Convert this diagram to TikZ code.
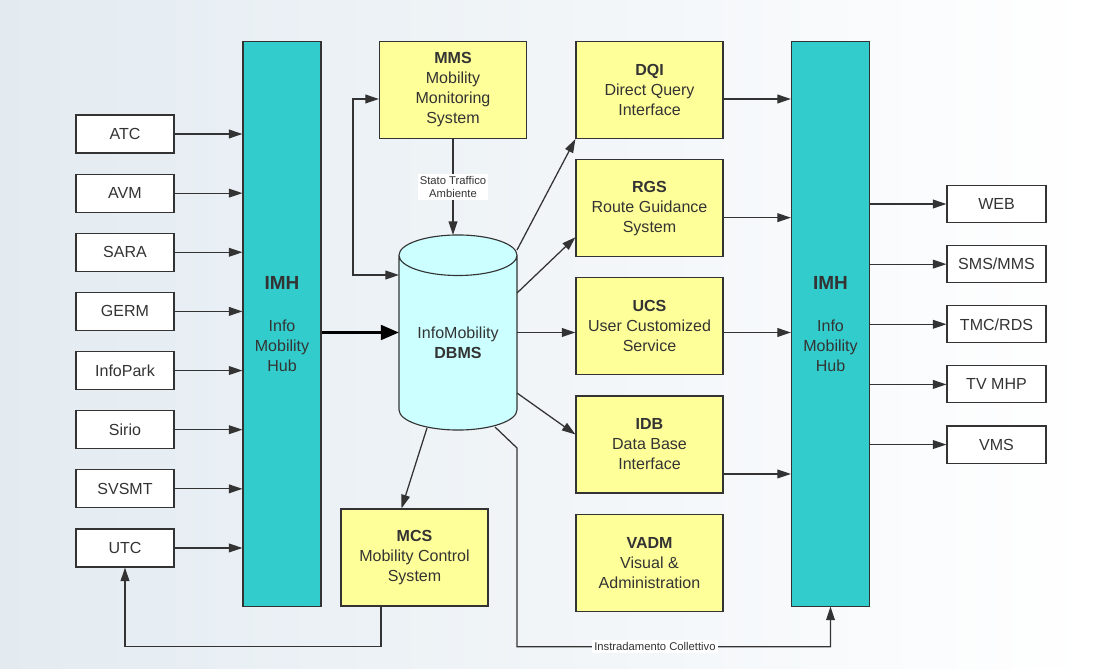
\documentclass[tikz,border=0pt]{standalone}
\usepackage{fontspec}
\setmainfont{Liberation Sans}
\usetikzlibrary{shapes.geometric, arrows.meta, positioning, calc}

\definecolor{hubcyan}{HTML}{33CCCC}
\definecolor{modyellow}{HTML}{FFFF99}
\definecolor{dbcyan}{HTML}{CCFFFF}
\definecolor{inkgray}{HTML}{333333}
\definecolor{bgblue}{HTML}{E3EBF1}

\begin{document}
\begin{tikzpicture}[x=0.025cm, y=-0.025cm,
    font=\fontsize{11.4}{14.2}\selectfont, text=inkgray,
    src/.style={rectangle, draw=inkgray, fill=white, line width=0.8pt,
                minimum width=2.45cm, minimum height=0.95cm, inner sep=0pt},
    sink/.style={src, minimum width=2.475cm, minimum height=0.925cm},
    hub/.style={rectangle, draw=inkgray, fill=hubcyan, line width=0.8pt,
                minimum width=1.95cm, minimum height=14.1cm, align=center, inner sep=0pt},
    module/.style={rectangle, draw=inkgray, fill=modyellow, line width=0.8pt,
                minimum width=3.675cm, minimum height=2.425cm, align=center, inner sep=0pt},
    tip/.tip={Triangle[length=3.4mm,width=2.2mm]},
    arrow/.style={-tip, line width=0.9pt, draw=inkgray},
    bigarrow/.style={-{Triangle[length=4.5mm,width=3.6mm]}, line width=2.4pt, draw=black},
    note/.style={fill=white, inner sep=1.5pt, align=center,
                 font=\fontsize{8}{9.5}\selectfont}
]
    % background
    \fill[left color=bgblue, right color=white] (0,0) rectangle (1093,669);

    % hubs and data base
    \node[hub] (hub1) at (282,324) {\textbf{\fontsize{13.5}{16}\selectfont IMH}\\[0.55cm] Info\\Mobility\\Hub};
    \node[hub] (hub2) at (830.5,324) {\textbf{\fontsize{13.5}{16}\selectfont IMH}\\[0.55cm] Info\\Mobility\\Hub};
    \node[cylinder, shape border rotate=90, aspect=0.5, draw=inkgray, fill=dbcyan,
          line width=0.8pt, minimum width=2.95cm, minimum height=4.875cm,
          inner sep=0pt, align=center, anchor=shape center] (dbms) at (458,332.5) {InfoMobility\\\textbf{DBMS}};
    \coordinate (dbc) at (dbms.shape center);

    % sources
    \node[src] (atc) at (125,134) {ATC};
    \node[src, below=0.5cm of atc] (avm) {AVM};
    \node[src, below=0.5cm of avm] (sara) {SARA};
    \node[src, below=0.5cm of sara] (germ) {GERM};
    \node[src, below=0.5cm of germ] (infopark) {InfoPark};
    \node[src, below=0.5cm of infopark] (sirio) {Sirio};
    \node[src, below=0.5cm of sirio] (svsmt) {SVSMT};
    \node[src, below=0.5cm of svsmt] (utc) {UTC};

    % modules
    \node[module] (mms) at (453,90) {\textbf{MMS}\\Mobility\\Monitoring\\System};
    \node[module] (mcs) at (414.5,557.5) {\textbf{MCS}\\Mobility Control\\System};
    \node[module] (dqi) at (649.5,90) {\textbf{DQI}\\Direct Query\\Interface};
    \node[module, below=0.5cm of dqi] (rgs) {\textbf{RGS}\\Route Guidance\\System};
    \node[module, below=0.5cm of rgs] (ucs) {\textbf{UCS}\\User Customized\\Service};
    \node[module, below=0.5cm of ucs] (idb) {\textbf{IDB}\\Data Base\\Interface};
    \node[module, below=0.5cm of idb] (vadm) {\textbf{VADM}\\Visual \&\\Administration};

    % outputs
    \node[sink] (web) at (996.5,204) {WEB};
    \node[sink, below=0.55cm of web] (sms) {SMS/MMS};
    \node[sink, below=0.55cm of sms] (tmc) {TMC/RDS};
    \node[sink, below=0.55cm of tmc] (tv) {TV MHP};
    \node[sink, below=0.55cm of tv] (vms) {VMS};

    % sources -> hub
    \draw[arrow] (atc.east) -- (atc.east -| hub1.west);
    \draw[arrow] (avm.east) -- (avm.east -| hub1.west);
    \draw[arrow] (sara.east) -- (sara.east -| hub1.west);
    \draw[arrow] (germ.east) -- (germ.east -| hub1.west);
    \draw[arrow] (infopark.east) -- (infopark.east -| hub1.west);
    \draw[arrow] (sirio.east) -- (sirio.east -| hub1.west);
    \draw[arrow] (svsmt.east) -- (svsmt.east -| hub1.west);
    \draw[arrow] (utc.east) -- (utc.east -| hub1.west);

    % hub -> data base
    \draw[bigarrow] (hub1.east |- dbc) -- ($(dbc)+(-59,0)$);
    \draw[tip-tip, line width=0.9pt, draw=inkgray]
        ($(mms.west)+(0,9)$) -| ($(dbc)+(-105,-57.5)$) -- ($(dbc)+(-59,-57.5)$);
    \draw[arrow] (mms.south) -- node[note] {Stato Traffico\\Ambiente} ($(dbc)+(-5,-97.5)$);

    % data base -> modules
    \draw[arrow] ($(dbc)+(59,-82.5)$) -- (dqi.south west);
    \draw[arrow] ($(dbc)+(59,-39.5)$) -- ($(rgs.south west)+(0,-20)$);
    \draw[arrow] ($(dbc)+(59,0)$) -- (dbc -| ucs.west);
    \draw[arrow] ($(dbc)+(59,60.5)$) -- ($(idb.west)+(0,-10)$);
    \draw[arrow] ($(dbc)+(-31,95.5)$) -- ($(mcs.north)+(-13,0)$);
    \draw[arrow] ($(mcs.south)+(-33.5,0)$) -- ++(0,40) -| (utc.south);
    \draw[arrow] ($(dbc)+(37,94.5)$) -- ++(22,21) |- node[note, pos=0.72] {Instradamento Collettivo}
        ($(hub2.south)+(0,40)$) -- (hub2.south);

    % modules -> hub
    \draw[arrow] ($(dqi.east)+(0,9)$) coordinate (q1) -- (q1 -| hub2.west);
    \draw[arrow] ($(rgs.east)+(0,9.5)$) coordinate (q2) -- (q2 -| hub2.west);
    \draw[arrow] (dbc -| ucs.east) -- (dbc -| hub2.west);
    \draw[arrow] ($(idb.east)+(0,29.5)$) coordinate (q4) -- (q4 -| hub2.west);

    % hub -> outputs
    \draw[arrow] (web.west -| hub2.east) -- (web.west);
    \draw[arrow] (sms.west -| hub2.east) -- (sms.west);
    \draw[arrow] (tmc.west -| hub2.east) -- (tmc.west);
    \draw[arrow] (tv.west -| hub2.east) -- (tv.west);
    \draw[arrow] (vms.west -| hub2.east) -- (vms.west);
\end{tikzpicture}
\end{document}
